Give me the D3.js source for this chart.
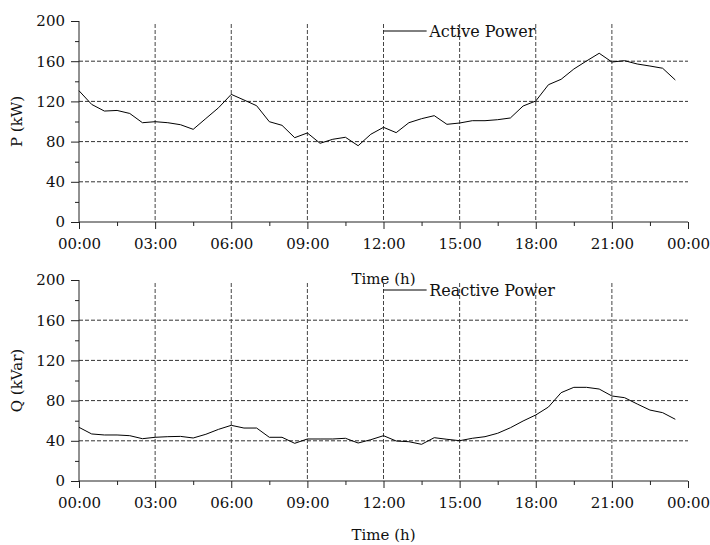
<!DOCTYPE html>
<html>
<head>
<meta charset="utf-8">
<script src="https://cdn.jsdelivr.net/npm/d3@7.9.0/dist/d3.min.js"></script>
<style>
  body { margin: 0; background: #fff; }
  svg { display: block; font-family: "DejaVu Serif", serif; }
</style>
</head>
<body>
<svg id="chart" width="710" height="545"></svg>
<script>
// half-hour samples over one day
const hours = [0, 0.5, 1, 1.5, 2, 2.5, 3, 3.5, 4, 4.5, 5, 5.5, 6, 6.5, 7, 7.5,
  8, 8.5, 9, 9.5, 10, 10.5, 11, 11.5, 12, 12.5, 13, 13.5, 14, 14.5, 15, 15.5,
  16, 16.5, 17, 17.5, 18, 18.5, 19, 19.5, 20, 20.5, 21, 21.5, 22, 22.5, 23, 23.5];

const activePower = [130.6, 117, 110.4, 111, 108, 98.8, 99.8, 98.8, 96.8, 92.2,
  103, 113.7, 127, 121.4, 115.7, 99.8, 96.2, 83.9, 88.6, 78.3,
  82.3, 84.3, 75.9, 87.3, 94.2, 88.9, 98.8, 102.8, 105.8, 97.2,
  98.5, 100.8, 100.8, 101.8, 103.5, 115.4, 120.4, 136.6, 142, 152.2,
  160.2, 167.9, 159.2, 160.5, 157.2, 155.2, 153, 141.3];

const reactivePower = [53.4, 46.8, 45.8, 45.8, 45.1, 42.1, 43.5, 44.1, 44.4, 42.8,
  46.5, 51.4, 55.4, 52.7, 52.7, 43.5, 43.5, 37.5, 41.8, 41.8,
  41.8, 42.5, 37.8, 41.1, 45.1, 39.8, 39.1, 36.5, 43.1, 41.5,
  40.1, 42.5, 44.1, 47.5, 53, 59.7, 65.7, 73.6, 87.9, 93.2,
  93.2, 91.5, 84.6, 82.9, 76.6, 70.6, 68, 61.4];

const xTicks = [0, 3, 6, 9, 12, 15, 18, 21, 24];
const xTickLabels = ['00:00', '03:00', '06:00', '09:00', '12:00', '15:00', '18:00', '21:00', '00:00'];
const yTicks = [0, 40, 80, 120, 160, 200];

const svg = d3.select('#chart');
const x = d3.scaleLinear().domain([0, 24]).range([79, 688]);

function drawPanel(top, bottom, values, yLabel, legend, titleGap) {
  const y = d3.scaleLinear().domain([0, 200]).range([bottom, top]);
  const g = svg.append('g');

  // grid
  g.selectAll('.hgrid')
    .data(yTicks.filter(d => d > 0 && d < 200))
    .join('line')
    .attr('x1', x(0)).attr('x2', x(24))
    .attr('y1', d => y(d)).attr('y2', d => y(d))
    .attr('stroke', '#333').attr('stroke-width', 1)
    .attr('stroke-dasharray', '4,2');

  g.selectAll('.vgrid')
    .data(xTicks.filter(d => d > 0 && d < 24))
    .join('line')
    .attr('x1', d => x(d)).attr('x2', d => x(d))
    .attr('y1', y(197)).attr('y2', y(0))
    .attr('stroke', '#444').attr('stroke-width', 1)
    .attr('stroke-dasharray', '4,2');

  // axes
  const xAxis = d3.axisBottom(x)
    .tickValues(xTicks)
    .tickSize(7)
    .tickFormat((d, i) => xTickLabels[i]);
  const ax = g.append('g').attr('transform', `translate(0,${bottom})`).call(xAxis);
  ax.select('.domain').attr('d', `M${x(0)},0H${x(24)}`);
  ax.selectAll('text').attr('dy', null).attr('y', 27).attr('font-size', 15)
    .attr('font-family', '"DejaVu Serif", serif').attr('fill', '#111');

  const xMinor = d3.axisBottom(x)
    .tickValues(xTicks.slice(0, -1).map(d => d + 1.5))
    .tickSize(4).tickFormat('');
  const axm = g.append('g').attr('transform', `translate(0,${bottom})`).call(xMinor);
  axm.select('.domain').remove();

  const yAxis = d3.axisLeft(y).tickValues(yTicks).tickSize(8).tickPadding(6);
  const ay = g.append('g').attr('transform', `translate(${x(0)},0)`).call(yAxis);
  ay.select('.domain').attr('d', `M0,${y(200)}V${y(0)}`);
  ay.selectAll('text').attr('font-size', 15)
    .attr('font-family', '"DejaVu Serif", serif').attr('fill', '#111');

  const yMinor = d3.axisLeft(y).tickValues(yTicks.slice(0, -1).map(d => d + 20))
    .tickSize(4).tickFormat('');
  const aym = g.append('g').attr('transform', `translate(${x(0)},0)`).call(yMinor);
  aym.select('.domain').remove();

  g.selectAll('.domain, .tick line').attr('stroke', '#222');

  // series
  const line = d3.line()
    .x((d, i) => x(hours[i]))
    .y(d => y(d));
  g.append('path')
    .datum(values)
    .attr('d', line)
    .attr('fill', 'none')
    .attr('stroke', '#000')
    .attr('stroke-width', 1);

  // legend
  g.append('line')
    .attr('x1', x(12)).attr('x2', x(13.7))
    .attr('y1', top + 10).attr('y2', top + 10)
    .attr('stroke', '#000');
  g.append('text')
    .attr('x', x(13.8)).attr('y', top + 16)
    .attr('font-size', 16).attr('fill', '#111')
    .text(legend);

  // labels
  g.append('text')
    .attr('transform', `translate(22,${(top + bottom) / 2}) rotate(-90)`)
    .attr('text-anchor', 'middle')
    .attr('font-size', 15).attr('fill', '#111')
    .text(yLabel);
  g.append('text')
    .attr('x', x(12)).attr('y', bottom + titleGap)
    .attr('text-anchor', 'middle')
    .attr('font-size', 15).attr('fill', '#111')
    .text('Time (h)');
}

drawPanel(21, 222, activePower, 'P (kW)', 'Active Power', 62);
drawPanel(280, 481, reactivePower, 'Q (kVar)', 'Reactive Power', 59);
</script>
</body>
</html>
